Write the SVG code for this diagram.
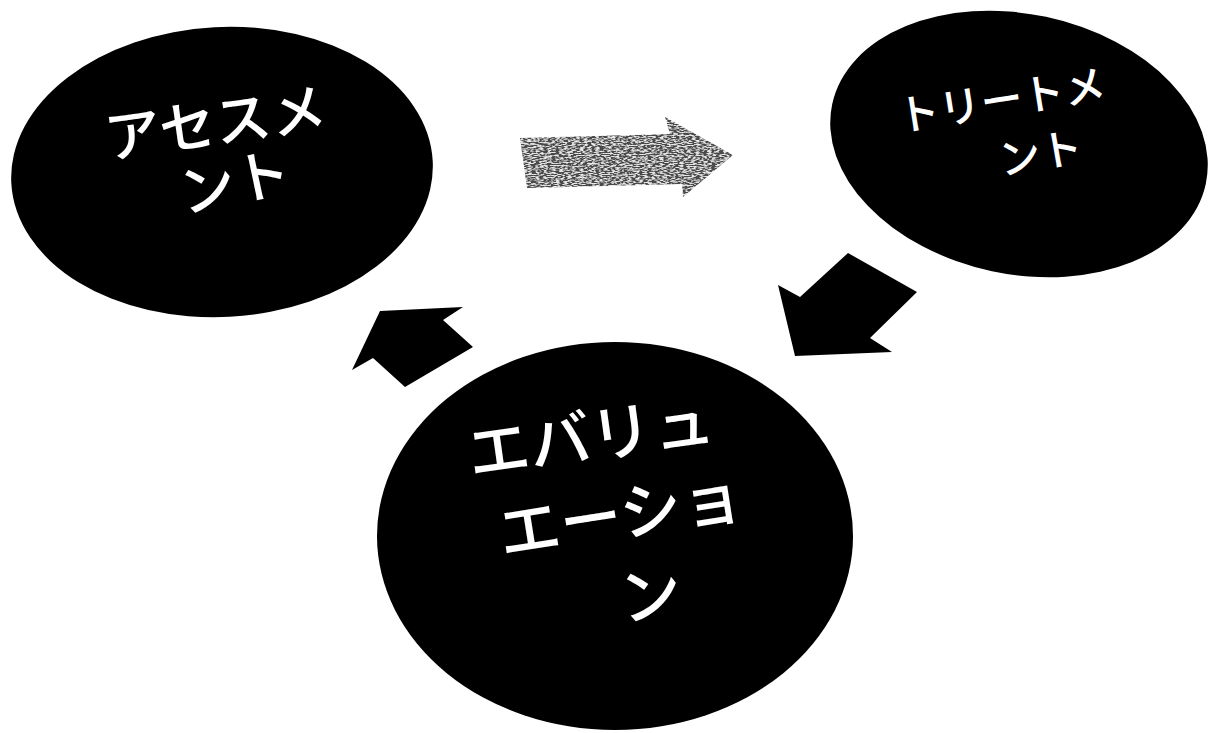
<svg xmlns="http://www.w3.org/2000/svg" width="1215" height="733" viewBox="0 0 1215 733">
<style>
.node{fill:#000}
.lbl{fill:#fff;font-family:"Noto Sans CJK JP","Noto Sans",sans-serif;font-weight:500;text-anchor:middle;dominant-baseline:central}
.arr{fill:#000}
</style>
<defs>
<filter id="grain" x="0" y="0" width="1" height="1">
<feTurbulence type="fractalNoise" baseFrequency="0.25 0.9" numOctaves="2" seed="7" result="n"/>
<feColorMatrix in="n" type="matrix" values="0 0 0 0 0  0 0 0 0 0  0 0 0 0 0  0 0 0 4 -1.7" result="a"/>
<feFlood flood-color="#e8e8e8" result="d"/>
<feComposite in="d" in2="a" operator="in" result="lt"/>
<feFlood flood-color="#4a4a4a" result="bg"/>
<feMerge result="m"><feMergeNode in="bg"/><feMergeNode in="lt"/></feMerge>
<feComposite in="m" in2="SourceGraphic" operator="in"/>
</filter>
</defs>
<rect width="1215" height="733" fill="#fff"/>

<g id="assessment">
<ellipse class="node" cx="222" cy="172" rx="211" ry="145" transform="rotate(-3 222 172)"/>
<text class="lbl" font-size="56" transform="translate(215 119) rotate(-8)">アセスメ</text>
<text class="lbl" font-size="56" transform="translate(234 178) rotate(-12)">ント</text>
</g>

<g id="treatment">
<ellipse class="node" cx="1019" cy="144" rx="191" ry="130" transform="rotate(12 1019 144)"/>
<text class="lbl" font-size="42" transform="translate(1001 97) rotate(-9)">トリートメ</text>
<text class="lbl" font-size="42" transform="translate(1040 150) rotate(-10)">ント</text>
</g>

<g id="evaluation">
<ellipse class="node" cx="615" cy="536" rx="238" ry="194"/>
<text class="lbl" font-size="62" transform="translate(590 432) rotate(-8)">エバリュ</text>
<text class="lbl" font-size="62" transform="translate(620 510) rotate(-9)">エーショ</text>
<text class="lbl" font-size="62" transform="translate(650 590) rotate(-9)">ン</text>
</g>

<g id="connectors">
<polygon points="520,138 670,134 665,117 733,155 683,197 682,184 527,188" fill="#555" filter="url(#grain)"/>
<polygon class="arr" points="848,253 917,292 870,338 892,352 795,356 778,285 800,297"/>
<polygon class="arr" points="380,311 463,307 443,320 473,347 405,387 373,358 352,370"/>
</g>
</svg>
